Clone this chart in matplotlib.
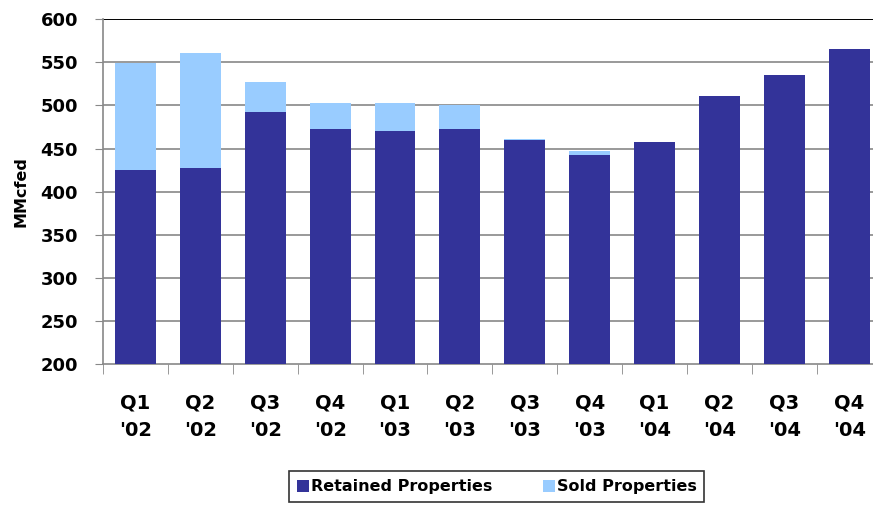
import numpy as np
import matplotlib.pyplot as plt

# quarterly production, MMcfed
quarters = ["Q1\n'02", "Q2\n'02", "Q3\n'02", "Q4\n'02", "Q1\n'03", "Q2\n'03",
            "Q3\n'03", "Q4\n'03", "Q1\n'04", "Q2\n'04", "Q3\n'04", "Q4\n'04"]
retained = [425, 427, 492, 473, 470, 473, 460, 442, 457, 511, 535, 566]
sold = [124, 134, 35, 30, 33, 28, 1, 5, 0, 0, 0, 0]

dark = '#333399'
light = '#99ccff'

plt.rcParams['font.family'] = ['DejaVu Sans']
plt.rcParams['font.weight'] = 'bold'

fig = plt.figure(figsize=(8.73, 5.05), dpi=100)
ax = fig.add_axes([0.118, 0.279, 0.892, 0.683])

x = np.arange(len(quarters))
ax.bar(x, np.array(retained) - 200, bottom=200, width=0.63, color=dark,
       label='Retained Properties', zorder=3)
ax.bar(x, sold, bottom=retained, width=0.63, color=light,
       label='Sold Properties', zorder=3)

ax.set_xlim(-0.5, len(quarters) - 0.5)
ax.set_ylim(200, 600)
ax.set_yticks(range(200, 601, 50))
ax.tick_params(axis='y', labelsize=13, length=6, color='#888888', pad=12)
for t in ax.get_yticklabels():
    t.set_fontweight('bold')

# category labels centred, tick marks at the boundaries
ax.set_xticks(x)
ax.set_xticklabels(quarters, fontsize=14, fontweight='bold', linespacing=1.55)
ax.tick_params(axis='x', length=0, pad=21)
ax.set_xticks(np.arange(-0.5, len(quarters)), minor=True)
ax.tick_params(axis='x', which='minor', length=7, color='#888888')

for yv in range(250, 600, 50):
    ax.axhline(yv, color='#888888', lw=1.2, zorder=1)
ax.axhline(600, color='black', lw=1.4, zorder=1)

for s in ['top', 'right']:
    ax.spines[s].set_visible(False)
for s in ['left', 'bottom']:
    ax.spines[s].set_color('#888888')
    ax.spines[s].set_linewidth(1.2)

ax.set_ylabel('MMcfed', fontsize=11.5, fontweight='bold', labelpad=9)

leg = fig.legend(loc='center', bbox_to_anchor=(0.569, 0.036), ncol=2,
                 frameon=True, fancybox=False, edgecolor='black',
                 handlelength=0.75, handleheight=0.75, handletextpad=0.1,
                 columnspacing=3.2, borderpad=0.5,
                 prop={'weight': 'bold', 'size': 11.5})
leg.get_frame().set_linewidth(1.2)

fig.savefig('out.png', dpi=100)
